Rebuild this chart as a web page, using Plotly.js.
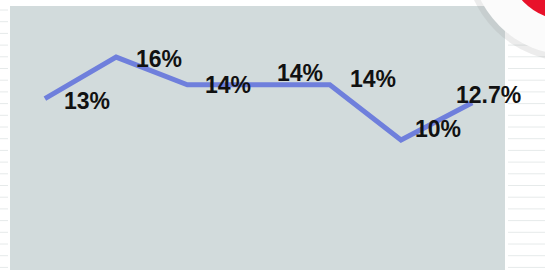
<!DOCTYPE html>
<html>
<head>
<meta charset="utf-8">
<script src="https://cdn.plot.ly/plotly-3.0.1.min.js"></script>
<style>html,body{margin:0;padding:0;background:#fff;}#chart{width:545px;height:275px;}</style>
</head>
<body>
<div id="chart"></div>
<script>
var categories = [0, 1, 2, 3, 4, 5, 6];
var values = [13, 16, 14, 14, 14, 10, 12.7];
var labels = ['13%', '16%', '14%', '14%', '14%', '10%', '12.7%'];
var labelDx = [42, 43, 41, 41, 43, 37, 16];
var labelDy = [-2, -2, 0, 12, 6, 11, 8];

var trace = {
  x: categories, y: values, type: 'scatter', mode: 'lines',
  line: {color: '#6f7fdc', width: 5},
  hoverinfo: 'none'
};

var annotations = categories.map(function (c, i) {
  return {
    x: c, y: values[i], xref: 'x', yref: 'y', text: '<b>' + labels[i] + '</b>', showarrow: false,
    xshift: labelDx[i], yshift: labelDy[i],
    font: {family: 'Liberation Sans, Arial, sans-serif', size: 23, color: '#111'},
    xanchor: 'center', yanchor: 'middle'
  };
});

function px(x) { return (x - 10) / 495; }
function py(y) { return (270 - y) / 264; }

var shapes = [];
for (var gy = 10; gy < 272; gy += 11.7) {
  shapes.push({type: 'line', xref: 'paper', yref: 'paper', x0: px(0), x1: px(8), y0: py(gy), y1: py(gy),
    line: {color: '#e6eaea', width: 1}, layer: 'below'});
  shapes.push({type: 'line', xref: 'paper', yref: 'paper', x0: px(508), x1: px(545), y0: py(gy), y1: py(gy),
    line: {color: '#e6eaea', width: 1}, layer: 'below'});
}
shapes.push(
  {type: 'circle', xref: 'paper', yref: 'paper', x0: px(464), x1: px(680), y0: py(62), y1: py(-152),
   fillcolor: 'rgba(150,150,150,0.18)', line: {width: 0}, layer: 'above'},
  {type: 'circle', xref: 'paper', yref: 'paper', x0: px(470), x1: px(670), y0: py(55), y1: py(-145),
   fillcolor: '#fbfbfb', line: {width: 0}, layer: 'above'},
  {type: 'circle', xref: 'paper', yref: 'paper', x0: px(504), x1: px(636), y0: py(21), y1: py(-111),
   fillcolor: '#e8112a', line: {width: 0}, layer: 'above'}
);

var layout = {
  width: 545, height: 275,
  margin: {l: 10, r: 40, t: 6, b: 5},
  paper_bgcolor: '#ffffff', plot_bgcolor: '#d2dbdc',
  showlegend: false,
  xaxis: {range: [-0.49, 6.46], showgrid: false, zeroline: false, showticklabels: false, ticks: '', showline: false},
  yaxis: {range: [0.6, 19.7], showgrid: false, zeroline: false, showticklabels: false, ticks: '', showline: false},
  annotations: annotations,
  shapes: shapes
};

Plotly.newPlot('chart', [trace], layout, {displayModeBar: false, staticPlot: true});
</script>
</body>
</html>
